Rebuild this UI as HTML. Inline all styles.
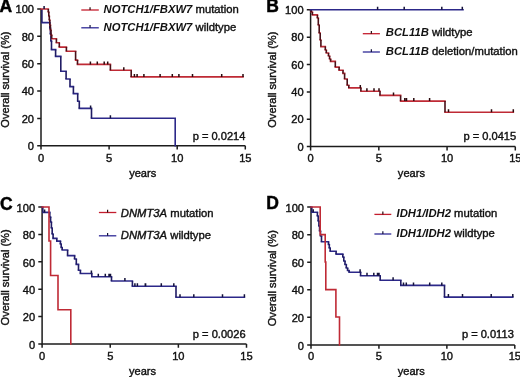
<!DOCTYPE html>
<html><head><meta charset="utf-8"><style>
html,body{margin:0;padding:0;background:#fff;}
svg{display:block;will-change:transform;}
.t{font-family:"Liberation Sans",sans-serif;font-size:11.1px;fill:#111;stroke:#111;stroke-width:0.4px;}
.yl{stroke-width:0.4px;}
.g{font-style:italic;font-weight:bold;stroke-width:0;}
.gi{font-style:italic;}
.L{font-family:"Liberation Sans",sans-serif;font-size:17.5px;font-weight:bold;fill:#000;stroke:#000;stroke-width:0.45px;}
</style></head><body>
<svg width="520" height="377" viewBox="0 0 520 377">
<rect width="520" height="377" fill="#fff"/>
<path d="M41 9V145.8H245.3" fill="none" stroke="#1c1c1c" stroke-width="1.5"/>
<text x="34" y="150" text-anchor="end" class="t">0</text>
<text x="34" y="122.64" text-anchor="end" class="t">20</text>
<text x="34" y="95.28" text-anchor="end" class="t">40</text>
<text x="34" y="67.92" text-anchor="end" class="t">60</text>
<text x="34" y="40.56" text-anchor="end" class="t">80</text>
<text x="34" y="13.2" text-anchor="end" class="t">100</text>
<text x="41" y="162.3" text-anchor="middle" class="t">0</text>
<text x="109.1" y="162.3" text-anchor="middle" class="t">5</text>
<text x="177.2" y="162.3" text-anchor="middle" class="t">10</text>
<text x="245.3" y="162.3" text-anchor="middle" class="t">15</text>
<path d="M37.2 145.8H41M37.2 118.44H41M37.2 91.08H41M37.2 63.72H41M37.2 36.36H41M37.2 9H41M41 145.8V149.6M109.1 145.8V149.6M177.2 145.8V149.6M245.3 145.8V149.6" fill="none" stroke="#1c1c1c" stroke-width="1.5"/>
<text x="142.7" y="177" text-anchor="middle" class="t">years</text>
<text transform="translate(9.1 79.6) rotate(-90)" text-anchor="middle" class="t yl">Overall survival (%)</text>
<text x="-0.4" y="12.3" class="L">A</text>
<path d="M81.3 10H98.8" stroke="#c41e2e" stroke-width="1.3" fill="none"/>
<path d="M90.05 7.2V10" stroke="#2a0a0e" stroke-width="1.2" fill="none"/>
<text x="103.5" y="12.6" class="t" font-size="11.28" style="font-size:11.28px"><tspan class="g">NOTCH1/FBXW7</tspan> mutation</text>
<path d="M81.3 27.8H98.8" stroke="#2f2a96" stroke-width="1.3" fill="none"/>
<path d="M90.05 25V27.8" stroke="#14123a" stroke-width="1.2" fill="none"/>
<text x="103.5" y="31" class="t" font-size="11.28" style="font-size:11.28px"><tspan class="g">NOTCH1/FBXW7</tspan> wildtype</text>
<text x="245.4" y="139.9" text-anchor="end" class="t">p = 0.0214</text>
<path d="M310.6 9.8V146.6H515.3" fill="none" stroke="#1c1c1c" stroke-width="1.5"/>
<text x="303.6" y="150.8" text-anchor="end" class="t">0</text>
<text x="303.6" y="123.44" text-anchor="end" class="t">20</text>
<text x="303.6" y="96.08" text-anchor="end" class="t">40</text>
<text x="303.6" y="68.72" text-anchor="end" class="t">60</text>
<text x="303.6" y="41.36" text-anchor="end" class="t">80</text>
<text x="303.6" y="14" text-anchor="end" class="t">100</text>
<text x="310.6" y="162.3" text-anchor="middle" class="t">0</text>
<text x="378.83" y="162.3" text-anchor="middle" class="t">5</text>
<text x="447.07" y="162.3" text-anchor="middle" class="t">10</text>
<text x="515.3" y="162.3" text-anchor="middle" class="t">15</text>
<path d="M306.8 146.6H310.6M306.8 119.24H310.6M306.8 91.88H310.6M306.8 64.52H310.6M306.8 37.16H310.6M306.8 9.8H310.6M310.6 146.6V150.4M378.83 146.6V150.4M447.07 146.6V150.4M515.3 146.6V150.4" fill="none" stroke="#1c1c1c" stroke-width="1.5"/>
<text x="411.4" y="176.5" text-anchor="middle" class="t">years</text>
<text transform="translate(276.1 79.7) rotate(-90)" text-anchor="middle" class="t yl">Overall survival (%)</text>
<text x="266.2" y="12.3" class="L">B</text>
<path d="M362.8 33.7H379.9" stroke="#c41e2e" stroke-width="1.3" fill="none"/>
<path d="M371.35 30.9V33.7" stroke="#2a0a0e" stroke-width="1.2" fill="none"/>
<text x="385.8" y="35.9" class="t" font-size="11.28" style="font-size:11.28px"><tspan class="g">BCL11B</tspan> wildtype</text>
<path d="M362.8 52H379.9" stroke="#2f2a96" stroke-width="1.3" fill="none"/>
<path d="M371.35 49.2V52" stroke="#14123a" stroke-width="1.2" fill="none"/>
<text x="385.8" y="54.6" class="t" font-size="11.28" style="font-size:11.28px"><tspan class="g">BCL11B</tspan> deletion/mutation</text>
<text x="516.2" y="139.9" text-anchor="end" class="t">p = 0.0415</text>
<path d="M42.1 207.1V343.9H246.5" fill="none" stroke="#1c1c1c" stroke-width="1.5"/>
<text x="35.1" y="348.6" text-anchor="end" class="t">0</text>
<text x="35.1" y="321.24" text-anchor="end" class="t">20</text>
<text x="35.1" y="293.88" text-anchor="end" class="t">40</text>
<text x="35.1" y="266.52" text-anchor="end" class="t">60</text>
<text x="35.1" y="239.16" text-anchor="end" class="t">80</text>
<text x="35.1" y="211.8" text-anchor="end" class="t">100</text>
<text x="42.1" y="360.1" text-anchor="middle" class="t">0</text>
<text x="110.23" y="360.1" text-anchor="middle" class="t">5</text>
<text x="178.37" y="360.1" text-anchor="middle" class="t">10</text>
<text x="246.5" y="360.1" text-anchor="middle" class="t">15</text>
<path d="M38.3 343.9H42.1M38.3 316.54H42.1M38.3 289.18H42.1M38.3 261.82H42.1M38.3 234.46H42.1M38.3 207.1H42.1M42.1 343.9V347.7M110.23 343.9V347.7M178.37 343.9V347.7M246.5 343.9V347.7" fill="none" stroke="#1c1c1c" stroke-width="1.5"/>
<text x="142.5" y="374.7" text-anchor="middle" class="t">years</text>
<text transform="translate(9.1 277.4) rotate(-90)" text-anchor="middle" class="t yl">Overall survival (%)</text>
<text x="0.1" y="210.2" class="L">C</text>
<path d="M98.9 212.5H116.3" stroke="#c41e2e" stroke-width="1.3" fill="none"/>
<path d="M107.6 209.7V212.5" stroke="#2a0a0e" stroke-width="1.2" fill="none"/>
<text x="120.8" y="216.5" class="t" font-size="11.28" style="font-size:11.28px"><tspan class="gi">DNMT3A</tspan> mutation</text>
<path d="M98.9 235.8H116.3" stroke="#2f2a96" stroke-width="1.3" fill="none"/>
<path d="M107.6 233V235.8" stroke="#14123a" stroke-width="1.2" fill="none"/>
<text x="120.8" y="239.4" class="t" font-size="11.28" style="font-size:11.28px"><tspan class="gi">DNMT3A</tspan> wildtype</text>
<text x="245.6" y="337.6" text-anchor="end" class="t">p = 0.0026</text>
<path d="M311 207.1V344.9H514.8" fill="none" stroke="#1c1c1c" stroke-width="1.5"/>
<text x="304" y="349.6" text-anchor="end" class="t">0</text>
<text x="304" y="322.04" text-anchor="end" class="t">20</text>
<text x="304" y="294.48" text-anchor="end" class="t">40</text>
<text x="304" y="266.92" text-anchor="end" class="t">60</text>
<text x="304" y="239.36" text-anchor="end" class="t">80</text>
<text x="304" y="211.8" text-anchor="end" class="t">100</text>
<text x="311" y="360.1" text-anchor="middle" class="t">0</text>
<text x="378.93" y="360.1" text-anchor="middle" class="t">5</text>
<text x="446.87" y="360.1" text-anchor="middle" class="t">10</text>
<text x="514.8" y="360.1" text-anchor="middle" class="t">15</text>
<path d="M307.2 344.9H311M307.2 317.34H311M307.2 289.78H311M307.2 262.22H311M307.2 234.66H311M307.2 207.1H311M311 344.9V348.7M378.93 344.9V348.7M446.87 344.9V348.7M514.8 344.9V348.7" fill="none" stroke="#1c1c1c" stroke-width="1.5"/>
<text x="411.3" y="374.6" text-anchor="middle" class="t">years</text>
<text transform="translate(276.1 278.2) rotate(-90)" text-anchor="middle" class="t yl">Overall survival (%)</text>
<text x="266.2" y="209.1" class="L">D</text>
<path d="M374.4 214.4H391.3" stroke="#c41e2e" stroke-width="1.3" fill="none"/>
<path d="M382.85 211.6V214.4" stroke="#2a0a0e" stroke-width="1.2" fill="none"/>
<text x="396.5" y="217.2" class="t" font-size="11.28" style="font-size:11.28px"><tspan class="g">IDH1/IDH2</tspan> mutation</text>
<path d="M374.4 234H391.3" stroke="#2f2a96" stroke-width="1.3" fill="none"/>
<path d="M382.85 231.2V234" stroke="#14123a" stroke-width="1.2" fill="none"/>
<text x="396.5" y="236.6" class="t" font-size="11.28" style="font-size:11.28px"><tspan class="g">IDH1/IDH2</tspan> wildtype</text>
<text x="513.8" y="337.9" text-anchor="end" class="t">p = 0.0113</text>
<path d="M41.9 22.6H49.8M49.8 28H50.4M50.4 34H50.9M50.9 41H51.5M51.5 49.6H55.6M55.6 56.4H60.8M60.8 71.3H66.1M66.1 79H70M70 86.6H73.4M73.4 93.6H77.7M77.7 101.2H79.3M79.3 108.4H91.5M91.5 118.2H175.2M175.2 118.2V145.8" fill="none" stroke="#2c2889" stroke-width="1.6" stroke-linecap="square"/><path d="M41.9 9V22.6M49.8 22.6V28M50.4 28V34M50.9 34V41M51.5 41V49.6M55.6 49.6V56.4M60.8 56.4V71.3M66.1 71.3V79M70 79V86.6M73.4 86.6V93.6M77.7 93.6V101.2M79.3 101.2V108.4M91.5 108.4V118.2" fill="none" stroke="#201c64" stroke-width="1.6" stroke-linecap="butt"/>
<path d="M41 9H48.3M48.3 12H48.8M48.8 16H49.3M49.3 20H49.8M49.8 25H50.4M50.4 30H51M51 35H51.7M51.7 38.7H56.4M56.4 42.7H59.3M59.3 47.1H66.4M66.4 51.3H75.6M75.6 60.1H77.5M77.5 64.4H110.4M110.4 70.2H131.2M131.2 76.9H243" fill="none" stroke="#bf2a35" stroke-width="1.6" stroke-linecap="square"/><path d="M48.3 9V12M48.8 12V16M49.3 16V20M49.8 20V25M50.4 25V30M51 30V35M51.7 35V38.7M56.4 38.7V42.7M59.3 42.7V47.1M66.4 47.1V51.3M75.6 51.3V60.1M77.5 60.1V64.4M110.4 64.4V70.2M131.2 70.2V76.9" fill="none" stroke="#4a1018" stroke-width="1.6" stroke-linecap="butt"/>
<path d="M90.4 64.4v-3.0M97.3 64.4v-3.0M104.2 64.4v-3.0M107.7 64.4v-3.0M123.8 70.2v-3.0M134.4 76.9v-3.0M137.1 76.9v-3.0M143.9 76.9v-3.0M160.1 76.9v-3.0M172.3 76.9v-3.0M178.9 76.9v-3.0M192.5 76.9v-3.0M221.7 76.9v-3.0M243 76.9v-3.0" fill="none" stroke="#2a0a0e" stroke-width="1.5"/>
<path d="M44.1 9v-3.0M90.6 108.4v-3.0M110.4 118.2v-3.0" fill="none" stroke="#14123a" stroke-width="1.5"/>
<path d="M310.6 9.8H311.3M311.3 12H312.4M312.4 14.9H317.4M317.4 18H318.3M318.3 25H319.2M319.2 33H320.2M320.2 40H320.9M320.9 46.6H325.3M325.3 50H326.3M326.3 53H328.5M328.5 56H329.6M329.6 59H330.6M330.6 61.4H335.3M335.3 67.1H339.1M339.1 70.3H343M343 73.4H344.6M344.6 79H347.2M347.2 85.3H348.8M348.8 87.9H360.9M360.9 91.2H380M380 95.4H400.6M400.6 101.1H445M445 112.2H513.3" fill="none" stroke="#bf2a35" stroke-width="1.6" stroke-linecap="square"/><path d="M311.3 9.8V12M312.4 12V14.9M317.4 14.9V18M318.3 18V25M319.2 25V33M320.2 33V40M320.9 40V46.6M325.3 46.6V50M326.3 50V53M328.5 53V56M329.6 56V59M330.6 59V61.4M335.3 61.4V67.1M339.1 67.1V70.3M343 70.3V73.4M344.6 73.4V79M347.2 79V85.3M348.8 85.3V87.9M360.9 87.9V91.2M380 91.2V95.4M400.6 95.4V101.1M445 101.1V112.2" fill="none" stroke="#4a1018" stroke-width="1.6" stroke-linecap="butt"/>
<path d="M310.6 9.7H463" fill="none" stroke="#2c2889" stroke-width="1.6" stroke-linejoin="miter" stroke-linecap="square"/>
<path d="M360.3 87.9v-3.0M366.9 91.2v-3.0M374 91.2v-3.0M379 91.2v-3.0M393.5 95.4v-3.0M404.8 101.1v-3.0M406.5 101.1v-3.0M413.8 101.1v-3.0M429.6 101.1v-3.0M448.5 112.2v-3.0M491.5 112.2v-3.0M513.3 112.2v-3.0" fill="none" stroke="#2a0a0e" stroke-width="1.5"/>
<path d="M377.6 9.7v-3.0M404.2 9.7v-3.0M441.8 9.7v-3.0M462.3 9.7v-3.0" fill="none" stroke="#14123a" stroke-width="1.5"/>
<path d="M42.1 207H42.8M42.8 212.4H49.8M49.8 217H50.6M50.6 222H51.4M51.4 228H52.2M52.2 234H53.1M53.1 238.4H56.8M56.8 241.1H60.4M60.4 244H61.2M61.2 247.5H62.2M62.2 250H67.6M67.6 255.6H74.6M74.6 259H76.3M76.3 264.4H78.5M78.5 270.3H80.4M80.4 273.5H91.8M91.8 276.7H111.5M111.5 281H132.4M132.4 286.2H176M176 297.2H244.4" fill="none" stroke="#2c2889" stroke-width="1.6" stroke-linecap="square"/><path d="M42.8 207V212.4M49.8 212.4V217M50.6 217V222M51.4 222V228M52.2 228V234M53.1 234V238.4M56.8 238.4V241.1M60.4 241.1V244M61.2 244V247.5M62.2 247.5V250M67.6 250V255.6M74.6 255.6V259M76.3 259V264.4M78.5 264.4V270.3M80.4 270.3V273.5M91.8 273.5V276.7M111.5 276.7V281M132.4 281V286.2M176 286.2V297.2" fill="none" stroke="#201c64" stroke-width="1.6" stroke-linecap="butt"/>
<path d="M42.1 207H49V241H50.6V275.5H58V309.7H70.8V343.9" fill="none" stroke="#bf2a35" stroke-width="1.6" stroke-linejoin="miter" stroke-linecap="square"/>
<path d="M44.6 212.4v-3.0M91.4 273.5v-3.0M98.3 276.7v-3.0M105.3 276.7v-3.0M109 276.7v-3.0M110.5 276.7v-3.0M124.9 281v-3.0M134.9 286.2v-3.0M137.4 286.2v-3.0M145.3 286.2v-3.0M145.6 286.2v-3.0M161.3 286.2v-3.0M173.8 286.2v-3.0M180 297.2v-3.0M193.8 297.2v-3.0M222.5 297.2v-3.0M244.4 297.2v-3.0" fill="none" stroke="#14123a" stroke-width="1.5"/>
<path d="M311 207H311.8M311.8 212.2H317.4M317.4 216H318.2M318.2 221H318.9M318.9 226H319.6M319.6 231H320.5M320.5 236H321.5M321.5 241.8H328.5M328.5 244.5H329.3M329.3 248H330.2M330.2 251.3H336.1M336.1 254.1H342.8M342.8 257H343.8M343.8 261H345M345 264.5H346.3M346.3 268H347.6M347.6 270.5H349.1M349.1 272.3H360.6M360.6 275.7H380.2M380.2 280.2H400.8M400.8 285.4H444.5M444.5 297.1H512.8" fill="none" stroke="#2c2889" stroke-width="1.6" stroke-linecap="square"/><path d="M311.8 207V212.2M317.4 212.2V216M318.2 216V221M318.9 221V226M319.6 226V231M320.5 231V236M321.5 236V241.8M328.5 241.8V244.5M329.3 244.5V248M330.2 248V251.3M336.1 251.3V254.1M342.8 254.1V257M343.8 257V261M345 261V264.5M346.3 264.5V268M347.6 268V270.5M349.1 270.5V272.3M360.6 272.3V275.7M380.2 275.7V280.2M400.8 280.2V285.4M444.5 285.4V297.1" fill="none" stroke="#201c64" stroke-width="1.6" stroke-linecap="butt"/>
<path d="M311 207H320.2V234.6H325.2V262H325.8V289.6H335.9V317H339.5V344.9" fill="none" stroke="#bf2a35" stroke-width="1.6" stroke-linejoin="miter" stroke-linecap="square"/>
<path d="M313.2 212.2v-3.0M360.1 272.3v-3.0M367 275.7v-3.0M373.8 275.7v-3.0M377.5 275.7v-3.0M379 275.7v-3.0M393.1 280.2v-3.0M403.5 285.4v-3.0M406.3 285.4v-3.0M413.5 285.4v-3.0M429.7 285.4v-3.0M441.8 285.4v-3.0M448.4 297.1v-3.0M462.5 297.1v-3.0M491.2 297.1v-3.0M512.8 297.1v-3.0" fill="none" stroke="#14123a" stroke-width="1.5"/>
</svg>
</body></html>
